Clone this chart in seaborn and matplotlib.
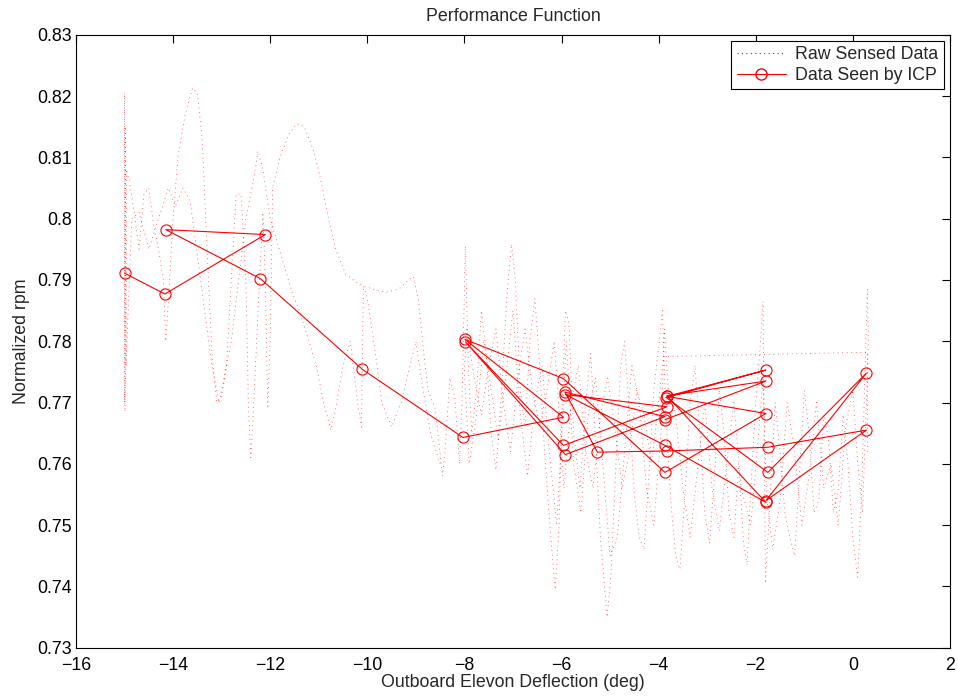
import numpy as np
import pandas as pd
import matplotlib
matplotlib.use("Agg")
import matplotlib.pyplot as plt
from matplotlib.lines import Line2D
from matplotlib.ticker import FuncFormatter
import seaborn as sns

# --- ICP samples, in the order the optimiser visited them ---
icp_x = [-15.00, -14.17, -12.10, -14.15, -12.20, -10.10, -8.03, -5.96, -7.99, -5.96,
         -3.87, -1.79, -3.83, -1.79, -3.84, -1.75, 0.28, -1.79, 0.28, -1.75,
         -3.83, -5.26, -5.93, -3.87, -5.92, -7.98, -5.96, -3.83, -5.92, -3.87,
         -1.79, -3.83, -1.79, -3.87]
icp_y = [0.7911, 0.7877, 0.7974, 0.7982, 0.7902, 0.7754, 0.7643, 0.7676, 0.7803, 0.7739,
         0.7586, 0.7682, 0.7710, 0.7753, 0.7708, 0.7586, 0.7748, 0.7540, 0.7655, 0.7627,
         0.7621, 0.7619, 0.7717, 0.7677, 0.7615, 0.7799, 0.7630, 0.7693, 0.7713, 0.7630,
         0.7537, 0.7711, 0.7735, 0.7672]

# --- raw sensed trace in sweeps ---
raw_back = [(-8.5, 0.7600), (-8.7, 0.7650), (-8.85, 0.7720), (-9.0, 0.7800), (-9.15, 0.7750),
            (-9.3, 0.7700), (-9.5, 0.7660), (-9.7, 0.7700), (-9.85, 0.7790), (-10.0, 0.7870),
            (-10.08, 0.7890), (-10.1, 0.7780), (-10.12, 0.7660), (-10.2, 0.7700), (-10.35, 0.7800),
            (-10.5, 0.7760), (-10.65, 0.7690), (-10.75, 0.7655), (-10.9, 0.7700), (-11.05, 0.7760),
            (-11.2, 0.7800), (-11.4, 0.7850), (-11.55, 0.7880), (-11.7, 0.7920), (-11.85, 0.7960),
            (-12.0, 0.8000), (-12.15, 0.8080), (-12.25, 0.8110), (-12.35, 0.8060), (-12.5, 0.8000),
            (-12.65, 0.7900), (-12.8, 0.7800), (-12.95, 0.7740), (-13.05, 0.7700), (-13.2, 0.7760),
            (-13.35, 0.7850), (-13.5, 0.7940), (-13.65, 0.8030), (-13.8, 0.8050), (-13.95, 0.8020),
            (-14.1, 0.8050), (-14.3, 0.8000), (-14.5, 0.7950), (-14.7, 0.8010), (-14.85, 0.8000)]

raw_left = [(-15.0, 0.7700), (-15.0, 0.8205), (-14.99, 0.7685), (-14.98, 0.8150), (-14.97, 0.7760),
            (-14.96, 0.8080), (-14.9, 0.8060), (-14.8, 0.8010), (-14.7, 0.7950), (-14.6, 0.8040),
            (-14.5, 0.8050), (-14.4, 0.7990), (-14.3, 0.7950), (-14.2, 0.7900), (-14.15, 0.7800),
            (-14.1, 0.7860), (-14.0, 0.8000), (-13.9, 0.8100), (-13.75, 0.8170), (-13.6, 0.8213),
            (-13.5, 0.8205), (-13.4, 0.8130), (-13.3, 0.7950), (-13.2, 0.7780), (-13.1, 0.7700),
            (-13.0, 0.7710), (-12.9, 0.7760), (-12.8, 0.7900), (-12.7, 0.8040), (-12.6, 0.8040),
            (-12.5, 0.7900), (-12.45, 0.7700), (-12.4, 0.7610), (-12.35, 0.7680), (-12.25, 0.7850),
            (-12.15, 0.8010), (-12.1, 0.7900), (-12.05, 0.7690), (-12.0, 0.7800), (-11.95, 0.8050),
            (-11.8, 0.8100), (-11.6, 0.8140), (-11.45, 0.8155), (-11.3, 0.8150), (-11.1, 0.8110),
            (-10.95, 0.8060), (-10.8, 0.8000), (-10.65, 0.7950), (-10.45, 0.7910), (-10.2, 0.7895),
            (-9.9, 0.7885), (-9.6, 0.7880), (-9.35, 0.7885), (-9.15, 0.7900), (-9.05, 0.7905),
            (-8.95, 0.7870), (-8.85, 0.7790), (-8.75, 0.7720), (-8.6, 0.7690), (-8.45, 0.7580),
            (-8.4, 0.7620), (-8.3, 0.7740), (-8.2, 0.7710), (-8.1, 0.7600), (-8.05, 0.7700)]

raw_mid1 = [(-7.98, 0.7955), (-7.92, 0.7760), (-7.85, 0.7650), (-7.75, 0.7720), (-7.65, 0.7850),
            (-7.55, 0.7780), (-7.45, 0.7650), (-7.35, 0.7590), (-7.25, 0.7700), (-7.12, 0.7880),
            (-7.03, 0.7958), (-6.95, 0.7900), (-6.85, 0.7720), (-6.75, 0.7660), (-6.65, 0.7800),
            (-6.55, 0.7870), (-6.45, 0.7760), (-6.35, 0.7620), (-6.22, 0.7480), (-6.13, 0.7395),
            (-6.05, 0.7500), (-5.98, 0.7720), (-5.92, 0.7850), (-5.85, 0.7830), (-5.75, 0.7650),
            (-5.62, 0.7560), (-5.5, 0.7700), (-5.4, 0.7780), (-5.3, 0.7640), (-5.2, 0.7480),
            (-5.06, 0.7350), (-4.98, 0.7420), (-4.88, 0.7600), (-4.78, 0.7760), (-4.7, 0.7800),
            (-4.6, 0.7680), (-4.5, 0.7550), (-4.4, 0.7480), (-4.3, 0.7460), (-4.2, 0.7580),
            (-4.1, 0.7720), (-4.0, 0.7790), (-3.92, 0.7850), (-3.85, 0.7680), (-3.75, 0.7540),
            (-3.65, 0.7450), (-3.56, 0.7428), (-3.45, 0.7560), (-3.35, 0.7700), (-3.25, 0.7760),
            (-3.15, 0.7650), (-3.05, 0.7520), (-2.95, 0.7470), (-2.85, 0.7580), (-2.75, 0.7720),
            (-2.65, 0.7650), (-2.55, 0.7520), (-2.45, 0.7480), (-2.35, 0.7600), (-2.25, 0.7470),
            (-2.18, 0.7435), (-2.1, 0.7560), (-2.0, 0.7700), (-1.9, 0.7800), (-1.85, 0.7865),
            (-1.82, 0.7600), (-1.8, 0.7405), (-1.72, 0.7520), (-1.6, 0.7700), (-1.5, 0.7620),
            (-1.4, 0.7520), (-1.3, 0.7480), (-1.2, 0.7450), (-1.1, 0.7580), (-1.0, 0.7720),
            (-0.9, 0.7650), (-0.8, 0.7520), (-0.7, 0.7540), (-0.6, 0.7680), (-0.5, 0.7640),
            (-0.4, 0.7520), (-0.3, 0.7560), (-0.2, 0.7680), (-0.1, 0.7600), (0.0, 0.7480),
            (0.1, 0.7415), (0.18, 0.7550), (0.25, 0.7750), (0.3, 0.7885), (0.32, 0.7800)]

raw_mid2 = [(0.28, 0.7700), (0.2, 0.7520), (0.1, 0.7600), (0.0, 0.7720), (-0.15, 0.7660),
            (-0.3, 0.7500), (-0.45, 0.7600), (-0.6, 0.7560), (-0.75, 0.7700), (-0.9, 0.7580),
            (-1.05, 0.7500), (-1.2, 0.7620), (-1.35, 0.7700), (-1.5, 0.7540), (-1.65, 0.7460),
            (-1.78, 0.7550), (-1.85, 0.7740), (-1.95, 0.7640), (-2.1, 0.7500), (-2.3, 0.7560),
            (-2.45, 0.7700), (-2.6, 0.7600), (-2.75, 0.7490), (-2.9, 0.7560), (-3.05, 0.7700),
            (-3.2, 0.7590), (-3.35, 0.7480), (-3.5, 0.7560), (-3.65, 0.7680), (-3.8, 0.7720),
            (-3.88, 0.7820), (-3.95, 0.7650), (-4.1, 0.7500), (-4.25, 0.7560), (-4.4, 0.7700),
            (-4.55, 0.7760), (-4.7, 0.7620), (-4.85, 0.7480), (-5.0, 0.7450), (-5.15, 0.7600),
            (-5.3, 0.7740), (-5.45, 0.7680), (-5.6, 0.7520), (-5.75, 0.7600), (-5.9, 0.7800),
            (-6.0, 0.7640), (-6.1, 0.7500), (-6.25, 0.7620), (-6.4, 0.7760), (-6.55, 0.7700),
            (-6.7, 0.7580), (-6.85, 0.7680), (-7.0, 0.7850), (-7.15, 0.7740), (-7.3, 0.7640),
            (-7.45, 0.7720), (-7.6, 0.7800), (-7.75, 0.7680), (-7.9, 0.7600), (-8.0, 0.7750)]

raw_mid3 = [(-7.95, 0.7820), (-7.8, 0.7740), (-7.65, 0.7680), (-7.5, 0.7760), (-7.35, 0.7820),
            (-7.2, 0.7700), (-7.05, 0.7620), (-6.9, 0.7740), (-6.75, 0.7820), (-6.6, 0.7720),
            (-6.45, 0.7660), (-6.3, 0.7720), (-6.15, 0.7800), (-6.02, 0.7650), (-5.95, 0.7560),
            (-5.8, 0.7700), (-5.65, 0.7760), (-5.5, 0.7620), (-5.35, 0.7560), (-5.2, 0.7680),
            (-5.05, 0.7740), (-4.9, 0.7660), (-4.75, 0.7560), (-4.6, 0.7620), (-4.45, 0.7720),
            (-4.3, 0.7680), (-4.15, 0.7600), (-4.0, 0.7700), (-3.9, 0.7775), (0.3, 0.7782),
            (0.3, 0.7620)]

raw = pd.DataFrame(raw_back + raw_left + raw_mid1 + raw_mid2 + raw_mid3,
                   columns=["deflection", "rpm"])
icp = pd.DataFrame({"deflection": icp_x, "rpm": icp_y})

sns.set_theme(style="white")
plt.rcParams["font.family"] = ["Liberation Sans", "DejaVu Sans"]
FS = 12.8

fig = plt.figure(figsize=(9.58, 6.96), dpi=100)
ax = fig.add_axes([0.0793, 0.0694, 0.9123, 0.8807])

sns.lineplot(data=raw, x="deflection", y="rpm", sort=False, estimator=None,
             color="red", linewidth=0.6, alpha=0.75, ax=ax)
ax.lines[-1].set_dashes([1, 4.5])
sns.lineplot(data=icp, x="deflection", y="rpm", sort=False, estimator=None,
             color="red", linewidth=0.8, marker="o", markersize=8,
             markerfacecolor="none", markeredgecolor="red", markeredgewidth=0.8, ax=ax)

ax.set_xlim(-16, 2)
ax.set_ylim(0.73, 0.83)
ax.set_xticks(np.arange(-16, 3, 2))
ax.set_yticks(np.round(np.arange(0.73, 0.8301, 0.01), 2))
ax.yaxis.set_major_formatter(FuncFormatter(lambda v, p: f"{round(v, 2):g}"))
ax.tick_params(direction="in", length=6, width=0.8, top=True, right=True,
               labelsize=FS, colors="black")
ax.tick_params(axis="x", pad=7)
ax.tick_params(axis="y", pad=3)
for s in ax.spines.values():
    s.set_color("black")
    s.set_linewidth(0.8)

ax.set_title("Performance Function", fontsize=FS, pad=10)
ax.set_xlabel("Outboard Elevon Deflection (deg)", fontsize=FS, labelpad=0)
ax.set_ylabel("Normalized rpm", fontsize=FS, labelpad=5)

handles = [Line2D([], [], color="red", linewidth=0.8, linestyle=(0, (1, 3))),
           Line2D([], [], color="red", linewidth=0.8, marker="o", markersize=8,
                  markerfacecolor="none")]
leg = ax.legend(handles, ["Raw Sensed Data", "Data Seen by ICP"], loc="upper right",
                fontsize=FS, frameon=True, fancybox=False, framealpha=1,
                borderaxespad=0.35, handlelength=2.8, handletextpad=0.5,
                borderpad=0.3, labelspacing=0.2)
leg.get_frame().set_edgecolor("black")
leg.get_frame().set_linewidth(0.8)

fig.savefig("out.png", dpi=100)
